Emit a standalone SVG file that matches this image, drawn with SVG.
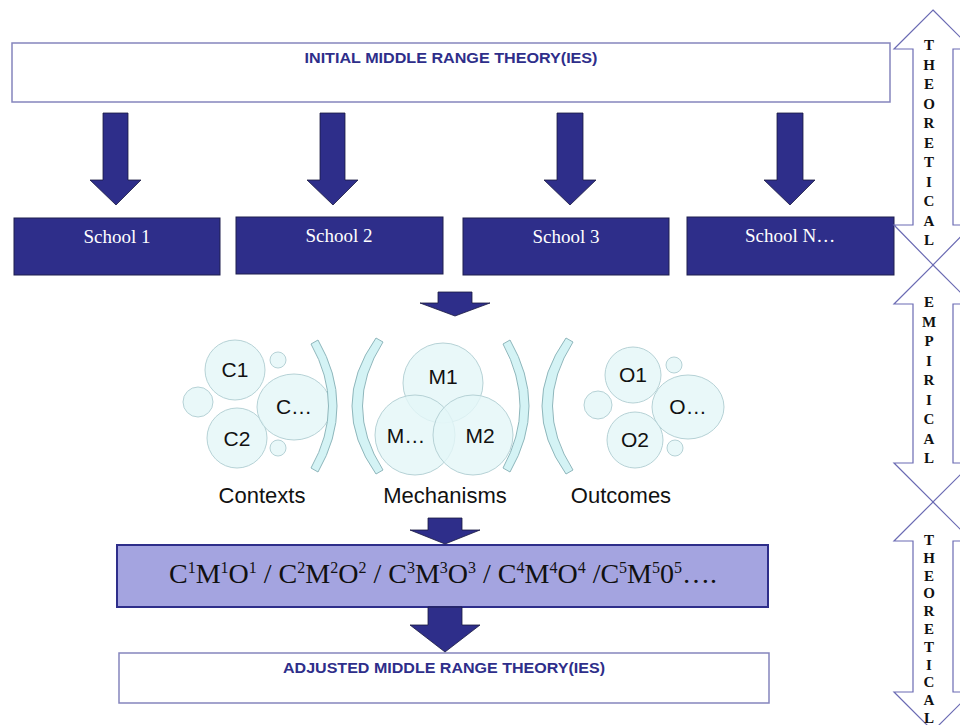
<svg xmlns="http://www.w3.org/2000/svg" width="960" height="725" viewBox="0 0 960 725">
<defs>
<style>
.box{fill:#fff;stroke:#8585bd;stroke-width:1.5}
.hdr{font-family:"Liberation Sans",Arial,sans-serif;font-weight:bold;fill:#2e2e8a;text-anchor:middle}
.school{fill:#2e2e8a;stroke:#1e1e4e;stroke-width:1}
.stxt{font-family:"Liberation Serif","Times New Roman",serif;font-size:19px;fill:#fff;text-anchor:middle}
.arr{fill:#2e2e8a;stroke:#1a1a40;stroke-width:0.8}
.circ{fill:#e4f6f8;fill-opacity:0.8;stroke:#b6d2d6;stroke-width:1}
.brk{fill:#d4f3f5;stroke:#8fb7bc;stroke-width:1}
.ctxt{font-family:"Liberation Sans",Arial,sans-serif;font-size:21px;fill:#111;text-anchor:middle}
.lbl{font-family:"Liberation Sans",Arial,sans-serif;font-size:22px;fill:#111;text-anchor:middle}
.bar{fill:#a4a4e0;stroke:#2e2e8a;stroke-width:2}
.ftxt{font-family:"Liberation Serif","Times New Roman",serif;font-size:28px;fill:#111;text-anchor:middle}
.s{font-size:16px}
.dbl{fill:#fff;stroke:#6b6bb3;stroke-width:1.2}
.vl{font-family:"Liberation Serif","Times New Roman",serif;font-weight:bold;font-size:15px;fill:#111;text-anchor:middle}
</style>
</defs>

<g id="initial-theory">
<rect class="box" x="12" y="43" width="878" height="59"/>
<text class="hdr" x="451" y="63" font-size="14" textLength="293" lengthAdjust="spacingAndGlyphs">INITIAL MIDDLE RANGE THEORY(IES)</text>
</g>

<g id="school-1">
<rect class="school" x="14" y="218" width="206" height="57"/>
<text class="stxt" x="117" y="243">School 1</text>
</g>
<g id="school-2">
<rect class="school" x="236" y="217" width="207" height="57"/>
<text class="stxt" x="339" y="242">School 2</text>
</g>
<g id="school-3">
<rect class="school" x="463" y="218" width="206" height="57"/>
<text class="stxt" x="566" y="243">School 3</text>
</g>
<g id="school-n">
<rect class="school" x="687" y="217" width="207" height="58"/>
<text class="stxt" x="790" y="242">School N…</text>
</g>

<g id="contexts">
<circle class="circ" cx="198" cy="402" r="15"/>
<circle class="circ" cx="278" cy="360" r="8"/>
<circle class="circ" cx="278" cy="448" r="8"/>
<circle class="circ" cx="235" cy="370" r="30"/>
<circle class="circ" cx="237" cy="438" r="30"/>
<ellipse class="circ" cx="294" cy="407" rx="37" ry="33"/>
<text class="ctxt" x="235" y="377">C1</text>
<text class="ctxt" x="237" y="446">C2</text>
<text class="ctxt" x="294" y="414">C…</text>
<text class="lbl" x="262" y="503">Contexts</text>
</g>

<g id="mechanisms">
<circle class="circ" cx="443" cy="383" r="40"/>
<circle class="circ" cx="415" cy="435" r="40"/>
<circle class="circ" cx="473" cy="435" r="40"/>
<text class="ctxt" x="443" y="384">M1</text>
<text class="ctxt" x="406" y="443">M…</text>
<text class="ctxt" x="480" y="443">M2</text>
<text class="lbl" x="445" y="503">Mechanisms</text>
</g>

<g id="outcomes">
<circle class="circ" cx="598" cy="405" r="14"/>
<circle class="circ" cx="674" cy="365" r="8"/>
<circle class="circ" cx="675" cy="448" r="8"/>
<circle class="circ" cx="633" cy="375" r="28"/>
<circle class="circ" cx="635" cy="440" r="28"/>
<ellipse class="circ" cx="688" cy="407" rx="36" ry="32"/>
<text class="ctxt" x="633" y="382">O1</text>
<text class="ctxt" x="635" y="447">O2</text>
<text class="ctxt" x="688" y="414">O…</text>
<text class="lbl" x="621" y="503">Outcomes</text>
</g>

<g id="brackets">
<path class="brk" d="M311,344 L318,340 Q356,406 318,472 L311,468 Q346,406 311,344 Z"/>
<path class="brk" d="M383,342 L376,338 Q328,406 376,474 L383,470 Q342,406 383,342 Z"/>
<path class="brk" d="M503,344 L510,340 Q548,406 510,472 L503,468 Q537,406 503,344 Z"/>
<path class="brk" d="M573,342 L566,338 Q518,406 566,474 L573,470 Q532,406 573,342 Z"/>
</g>

<g id="cmo-configurations">
<rect class="bar" x="117" y="545" width="651" height="62"/>
<text class="ftxt" x="443" y="583">C<tspan class="s" dy="-10">1</tspan><tspan dy="10">M</tspan><tspan class="s" dy="-10">1</tspan><tspan dy="10">O</tspan><tspan class="s" dy="-10">1</tspan><tspan dy="10"> / C</tspan><tspan class="s" dy="-10">2</tspan><tspan dy="10">M</tspan><tspan class="s" dy="-10">2</tspan><tspan dy="10">O</tspan><tspan class="s" dy="-10">2</tspan><tspan dy="10"> / C</tspan><tspan class="s" dy="-10">3</tspan><tspan dy="10">M</tspan><tspan class="s" dy="-10">3</tspan><tspan dy="10">O</tspan><tspan class="s" dy="-10">3</tspan><tspan dy="10"> / C</tspan><tspan class="s" dy="-10">4</tspan><tspan dy="10">M</tspan><tspan class="s" dy="-10">4</tspan><tspan dy="10">O</tspan><tspan class="s" dy="-10">4</tspan><tspan dy="10"> /C</tspan><tspan class="s" dy="-10">5</tspan><tspan dy="10">M</tspan><tspan class="s" dy="-10">5</tspan><tspan dy="10">0</tspan><tspan class="s" dy="-10">5</tspan><tspan dy="10">….</tspan></text>
</g>

<g id="adjusted-theory">
<rect class="box" x="119" y="653" width="650" height="50"/>
<text class="hdr" x="444" y="673" font-size="15" textLength="322" lengthAdjust="spacingAndGlyphs">ADJUSTED MIDDLE RANGE THEORY(IES)</text>
</g>

<g id="connectors">
<path class="arr" d="M103,113 H128 V180 H141 L116,205 L90,180 H103 Z"/>
<path class="arr" d="M320,113 H345 V180 H358 L333,205 L307,180 H320 Z"/>
<path class="arr" d="M557,113 H583 V180 H596 L570,205 L544,180 H557 Z"/>
<path class="arr" d="M777,113 H803 V180 H815 L790,205 L764,180 H777 Z"/>
<path class="arr" d="M438,292 H472 V303 H490 L455,316 L420,303 H438 Z"/>
<path class="arr" d="M428,518 H462 V530 H480 L445,544 L410,530 H428 Z"/>
<path class="arr" d="M428,607 H462 V625 H480 L445,652 L410,625 H428 Z"/>
</g>

<g id="phase-theoretical-1">
<path class="dbl" d="M933,10 L972,49 H953 V225 H972 L933,265 L894,225 H913 V49 H894 Z"/>
<text class="vl" x="929" y="50">T</text>
<text class="vl" x="929" y="69.5">H</text>
<text class="vl" x="929" y="89">E</text>
<text class="vl" x="929" y="108.5">O</text>
<text class="vl" x="929" y="128">R</text>
<text class="vl" x="929" y="147.5">E</text>
<text class="vl" x="929" y="167">T</text>
<text class="vl" x="929" y="186.5">I</text>
<text class="vl" x="929" y="206">C</text>
<text class="vl" x="929" y="225.5">A</text>
<text class="vl" x="929" y="245">L</text>
</g>

<g id="phase-empirical">
<path class="dbl" d="M933,265 L972,304 H953 V463 H972 L933,502 L894,463 H913 V304 H894 Z"/>
<text class="vl" x="929" y="307">E</text>
<text class="vl" x="929" y="326.5">M</text>
<text class="vl" x="929" y="346">P</text>
<text class="vl" x="929" y="365.5">I</text>
<text class="vl" x="929" y="385">R</text>
<text class="vl" x="929" y="404.5">I</text>
<text class="vl" x="929" y="424">C</text>
<text class="vl" x="929" y="443.5">A</text>
<text class="vl" x="929" y="463">L</text>
</g>

<g id="phase-theoretical-2">
<path class="dbl" d="M933,502 L972,541 H953 V692 H972 L933,731 L894,692 H913 V541 H894 Z"/>
<text class="vl" x="929" y="545">T</text>
<text class="vl" x="929" y="562.8">H</text>
<text class="vl" x="929" y="580.6">E</text>
<text class="vl" x="929" y="598.4">O</text>
<text class="vl" x="929" y="616.2">R</text>
<text class="vl" x="929" y="634">E</text>
<text class="vl" x="929" y="651.8">T</text>
<text class="vl" x="929" y="669.6">I</text>
<text class="vl" x="929" y="687.4">C</text>
<text class="vl" x="929" y="705.2">A</text>
<text class="vl" x="929" y="723">L</text>
</g>
</svg>
